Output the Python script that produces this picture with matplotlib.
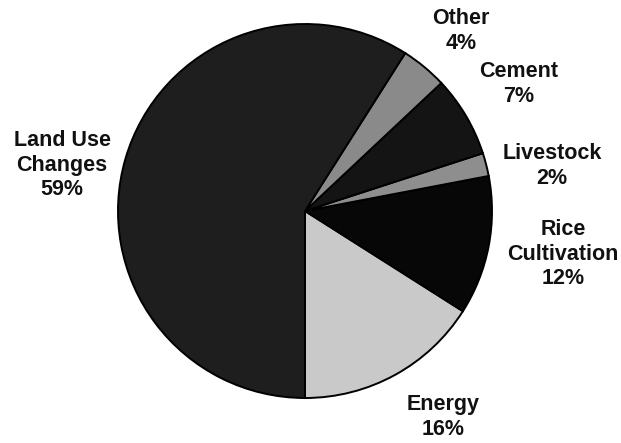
import matplotlib
matplotlib.use("Agg")
import matplotlib.pyplot as plt

categories = ["Energy", "Rice\nCultivation", "Livestock", "Cement", "Other", "Land Use\nChanges"]
shares = [16, 12, 2, 7, 4, 59]

colors = ["#c9c9c9", "#070707", "#8e8e8e", "#141414", "#8a8a8a", "#1e1e1e"]
# label centres in pixel coordinates (x, y from top)
label_pos = [(443, 417), (563, 254), (552, 166), (519, 84), (461, 31), (62, 165)]

W, H = 621, 443
fig = plt.figure(figsize=(W / 100, H / 100), dpi=100)
fig.patch.set_facecolor("white")
ax = fig.add_axes([0, 0, 1, 1])

cx, cy, r = 305, H - 211, 187
ax.pie(shares, colors=colors, startangle=270, counterclock=True,
       center=(cx, cy), radius=r,
       wedgeprops=dict(edgecolor="black", linewidth=1.4))

for cat, val, (px, py) in zip(categories, shares, label_pos):
    ax.text(px, H - py, f"{cat}\n{val}%", ha="center", va="center",
            fontsize=15.5, fontweight="bold", family=["Liberation Sans", "DejaVu Sans"],
            linespacing=1.22, color="#111111")

ax.set_xlim(0, W)
ax.set_ylim(0, H)
ax.set_aspect("equal")
ax.axis("off")
fig.savefig("out.png", dpi=100, facecolor="white")
